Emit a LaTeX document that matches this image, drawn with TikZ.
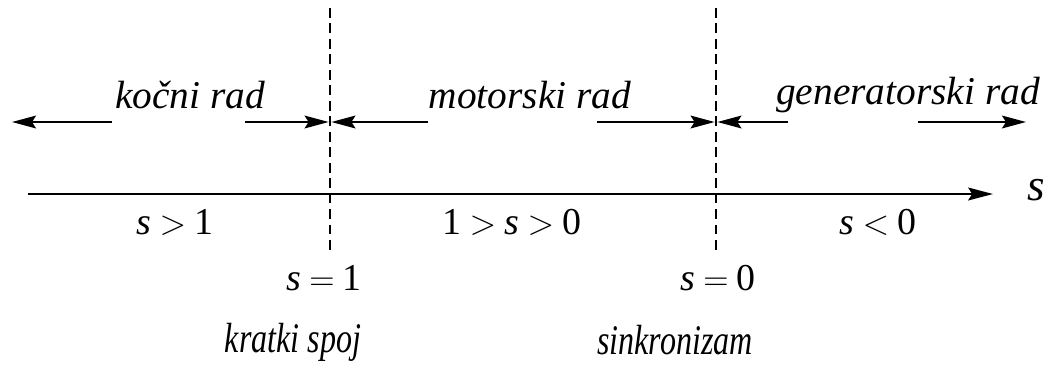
\documentclass[tikz,border=0pt]{standalone}
\usepackage{fontspec}
\setmainfont{Liberation Serif}
\usetikzlibrary{arrows.meta}
\newcommand{\relsp}{\hspace{0.22em}}
\newcommand{\gtsym}{\relsp$>$\relsp}
\newcommand{\ltsym}{\relsp$<$\relsp}
\newcommand{\eqsym}{\relsp$=$\relsp}
\tikzset{
  regime/.style={font=\fontsize{28}{30}\selectfont\itshape, inner sep=0pt},
  relation/.style={font=\fontsize{27}{29}\selectfont, inner sep=0pt},
  pointname/.style={font=\fontsize{30}{32}\selectfont\itshape, inner sep=0pt, xscale=0.76, transform shape},
  dirarrow/.style={-{Stealth[length=6mm,width=3.2mm,inset=1mm]}, line width=1.3pt},
  axisline/.style={-{Stealth[length=6.2mm,width=3.2mm,inset=1mm]}, line width=1.8pt},
  boundary/.style={dash pattern=on 7pt off 4pt, line width=0.9pt}
}
\begin{document}
\begin{tikzpicture}[x=0.025cm,y=-0.025cm]
\useasboundingbox (0,0) rectangle (1062,364);
% boundaries between the regimes
\coordinate (shortTop) at (330,8);
\coordinate (shortBot) at (330,250);
\coordinate (syncTop) at (716,8);
\coordinate (syncBot) at (716,250);
\draw[boundary] (shortTop) -- (shortBot);
\draw[boundary] (syncTop) -- (syncBot);
% regime names
\node[regime] (brake) at (190,95) {kočni rad};
\node[regime] (motor) at (530,95) {motorski rad};
\node[regime] (gen) at (908,95) {generatorski rad};
% direction arrows
\coordinate (brakeL) at (112,122);
\coordinate (brakeLtip) at (12,122);
\coordinate (brakeR) at (245,122);
\coordinate (shortMid) at (330,122);
\coordinate (motorL) at (428,122);
\coordinate (motorR) at (597,122);
\coordinate (syncMid) at (716,122);
\coordinate (genL) at (788,122);
\coordinate (genR) at (918,122);
\coordinate (genRtip) at (1026,122);
\draw[dirarrow] (brakeL) -- (brakeLtip);
\draw[dirarrow] (brakeR) -- ([xshift=-1pt]shortMid);
\draw[dirarrow] (motorL) -- ([xshift=1pt]shortMid);
\draw[dirarrow] (motorR) -- ([xshift=-1pt]syncMid);
\draw[dirarrow] (genL) -- ([xshift=1pt]syncMid);
\draw[dirarrow] (genR) -- (genRtip);
% slip axis
\coordinate (axStart) at (28,194);
\coordinate (axEnd) at (993,194);
\node[regime,font=\fontsize{32}{34}\selectfont\itshape] (slip) at (1036,190) {s};
\draw[axisline] (axStart) -- (axEnd);
% ranges
\node[relation] (rangeBrake) at (175,222) {\textit{s}\gtsym1};
\node[relation] (rangeMotor) at (512,222) {1\gtsym\textit{s}\gtsym0};
\node[relation] (rangeGen) at (878,222) {\textit{s}\ltsym0};
% special points
\node[relation] (atShort) at (324,278) {\textit{s}\eqsym1};
\node[relation] (atSync) at (718,278) {\textit{s}\eqsym0};
\node[pointname] (shortName) at (293,342) {kratki spoj};
\node[pointname] (syncName) at (675,340) {sinkronizam};
\end{tikzpicture}
\end{document}
